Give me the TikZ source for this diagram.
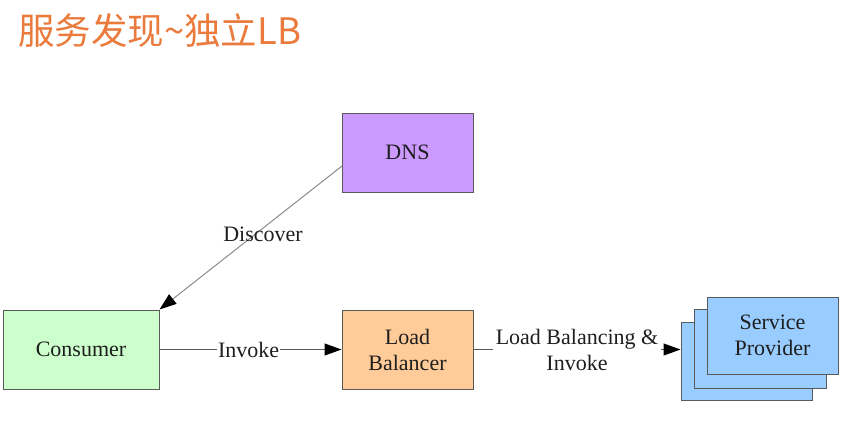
\documentclass[tikz,border=0pt]{standalone}
\usepackage{fontspec}
\setmainfont{Liberation Serif}
\newfontfamily\cjkfont{Noto Sans CJK SC}
\usetikzlibrary{arrows.meta}
\definecolor{titleorange}{HTML}{EB7B3D}
\definecolor{dnsfill}{HTML}{CC99FF}
\definecolor{consfill}{HTML}{CCFFCC}
\definecolor{lbfill}{HTML}{FFCC99}
\definecolor{spfill}{HTML}{99CCFF}
\definecolor{edgegray}{HTML}{5A5A5A}
\definecolor{textdark}{HTML}{1E1E1E}
\tikzset{
  box/.style={draw=edgegray, line width=1pt, minimum width=131pt, minimum height=79pt, inner sep=0pt, align=center, text=textdark, font=\fontsize{22}{26}\selectfont},
  conn/.style={draw=edgegray, line width=1pt, -{Triangle[length=17pt,width=12pt,color=black,fill=black]}},
  lbl/.style={font=\fontsize{22}{26}\selectfont, text=textdark, align=center, inner sep=1pt}
}
\begin{document}
\begin{tikzpicture}[x=1pt,y=-1pt]
\useasboundingbox[fill=white] (0,0) rectangle (851,426);
\node[anchor=base west, inner sep=0pt, text=titleorange, font=\cjkfont\fontsize{36.5}{40}\selectfont] (title) at (18,44) {服务发现\textasciitilde 独立LB};
\node[box, fill=dnsfill] (dns) at (407.5,152.5) {DNS};
\node[box, fill=consfill, minimum width=156pt] (cons) at (81,349.5) {Consumer};
\node[box, fill=lbfill] (lb) at (407.5,349.5) {Load\\Balancer};
\node[box, fill=spfill, minimum width=131pt, minimum height=78pt] (sp3) at (746.5,361) {};
\node[box, fill=spfill, minimum width=132pt, minimum height=79pt] (sp2) at (760,348.5) {};
\node[box, fill=spfill, minimum width=131pt, minimum height=77pt] (sp1) at (772.5,335.5) {Service\\Provider};
\coordinate (dnsl) at (342,166);
\draw[conn, draw=gray!90] (dnsl) -- (cons.north east);
\node[lbl] (disc) at (263,234) {Discover};
\draw[conn] (cons.east) -- (lb.west) node[lbl, pos=0.49, fill=white] (inv) {Invoke};
\draw[conn] (lb.east) -- (lb.east -| sp3.west) node[lbl, pos=0.5, fill=white, inner xsep=3pt, inner ysep=4pt] (lbi) {Load Balancing \&\\Invoke};
\end{tikzpicture}
\end{document}
